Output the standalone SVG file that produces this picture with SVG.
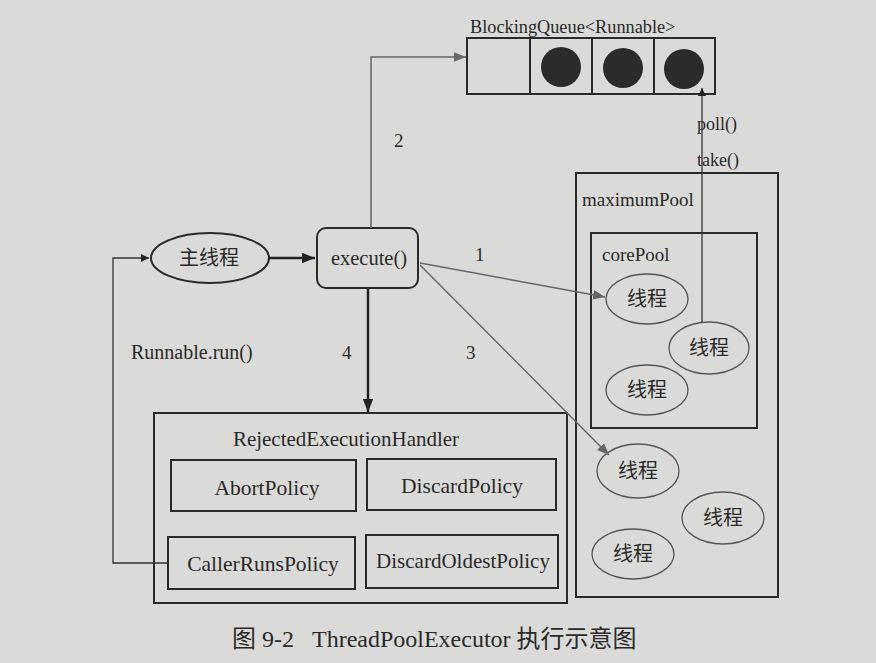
<svg xmlns="http://www.w3.org/2000/svg" width="876" height="663" viewBox="0 0 876 663">
<defs>
<marker id="ah" viewBox="0 0 10 10" refX="10" refY="5" markerWidth="8" markerHeight="8" markerUnits="userSpaceOnUse" orient="auto"><path d="M0,0 L10,5 L0,10 z" fill="#222"/></marker>
<marker id="ahg" viewBox="0 0 10 10" refX="10" refY="5" markerWidth="12" markerHeight="12" markerUnits="userSpaceOnUse" orient="auto"><path d="M0,1 L10,5 L0,9 z" fill="#666"/></marker>
<marker id="ahb" viewBox="0 0 10 10" refX="10" refY="5" markerWidth="13" markerHeight="13" markerUnits="userSpaceOnUse" orient="auto"><path d="M0,1 L10,5 L0,9 z" fill="#222"/></marker>
</defs>
<style>
.t{font-family:"Liberation Serif","Noto Sans CJK SC",serif;fill:#2a2a2a}
.c{font-family:"Noto Sans CJK SC",sans-serif;fill:#2a2a2a}
.box{fill:none;stroke:#2a2a2a;stroke-width:2}
.th{fill:none;stroke:#555;stroke-width:1.3}
.ln{fill:none;stroke:#333;stroke-width:1.3}
.lg{fill:none;stroke:#666;stroke-width:1.5}
.lb{fill:none;stroke:#222;stroke-width:2.5}
</style>
<rect width="876" height="663" fill="#dadad8"/>
<g id="queue">
<text class="t" x="470" y="33" font-size="18.3">BlockingQueue&lt;Runnable&gt;</text>
<rect class="box" x="467" y="38" width="248" height="56"/>
<line class="box" x1="530" y1="38" x2="530" y2="94"/>
<line class="box" x1="592" y1="38" x2="592" y2="94"/>
<line class="box" x1="654" y1="38" x2="654" y2="94"/>
<circle cx="561" cy="67" r="20" fill="#2b2b2b"/>
<circle cx="623" cy="68" r="20" fill="#2b2b2b"/>
<circle cx="684" cy="69" r="20" fill="#2b2b2b"/>
</g>
<g id="mainThread">
<ellipse cx="210" cy="258" rx="59" ry="25" fill="none" stroke="#2a2a2a" stroke-width="2"/>
<text class="c" x="209" y="265" font-size="20" text-anchor="middle">主线程</text>
</g>
<g id="execute">
<rect class="box" x="317" y="228" width="101" height="60" rx="9"/>
<text class="t" x="369" y="265" font-size="20.5" text-anchor="middle">execute()</text>
</g>
<g id="rejected">
<rect class="box" x="154" y="413" width="413" height="190"/>
<text class="t" x="346" y="446" font-size="21" text-anchor="middle">RejectedExecutionHandler</text>
</g>
<g id="abort"><rect class="box" x="171" y="460" width="185" height="51"/><text class="t" x="267" y="495" font-size="21.5" text-anchor="middle">AbortPolicy</text></g>
<g id="discard"><rect class="box" x="367" y="459" width="189" height="51"/><text class="t" x="462" y="493" font-size="21.5" text-anchor="middle">DiscardPolicy</text></g>
<g id="callerRuns"><rect class="box" x="168" y="537" width="187" height="52"/><text class="t" x="263" y="571" font-size="21.5" text-anchor="middle">CallerRunsPolicy</text></g>
<g id="discardOldest"><rect class="box" x="366" y="535" width="192" height="53"/><text class="t" x="463" y="568" font-size="21" text-anchor="middle">DiscardOldestPolicy</text></g>
<g id="maximumPool">
<rect class="box" x="576" y="173" width="202" height="424"/>
<text class="t" x="582" y="206" font-size="19">maximumPool</text>
</g>
<g id="corePool">
<rect class="box" x="591" y="233" width="166" height="195"/>
<text class="t" x="602" y="261" font-size="19">corePool</text>
</g>
<g id="t1"><ellipse class="th" cx="647" cy="299" rx="41" ry="25"/><text class="c" x="647" y="306" font-size="20" text-anchor="middle">线程</text></g>
<g id="t2"><ellipse class="th" cx="709" cy="348" rx="40" ry="26"/><text class="c" x="709" y="355" font-size="20" text-anchor="middle">线程</text></g>
<g id="t3"><ellipse class="th" cx="647" cy="390" rx="41" ry="25"/><text class="c" x="647" y="397" font-size="20" text-anchor="middle">线程</text></g>
<g id="t4"><ellipse class="th" cx="638" cy="471" rx="41" ry="27"/><text class="c" x="638" y="478" font-size="20" text-anchor="middle">线程</text></g>
<g id="t5"><ellipse class="th" cx="723" cy="518" rx="41" ry="26"/><text class="c" x="723" y="525" font-size="20" text-anchor="middle">线程</text></g>
<g id="t6"><ellipse class="th" cx="633" cy="554" rx="41" ry="25"/><text class="c" x="633" y="561" font-size="20" text-anchor="middle">线程</text></g>
<g id="connectors">
<path class="lg" d="M371,228 V57 H466" marker-end="url(#ahg)"/>
<line class="lb" x1="269" y1="258" x2="315" y2="258" marker-end="url(#ahb)"/>
<line class="lb" x1="368" y1="288" x2="368" y2="412" marker-end="url(#ahb)"/>
<line class="lg" x1="420" y1="263" x2="605" y2="297" marker-end="url(#ahg)"/>
<line class="lg" x1="420" y1="265" x2="609" y2="455" marker-end="url(#ahg)"/>
<path class="ln" d="M168,563 H113 V258 H149" marker-end="url(#ah)"/>
<line class="ln" x1="702" y1="322" x2="702" y2="88" marker-end="url(#ah)"/>
<text class="t" x="394" y="147" font-size="19">2</text>
<text class="t" x="475" y="261" font-size="19">1</text>
<text class="t" x="342" y="359" font-size="19">4</text>
<text class="t" x="466" y="359" font-size="19">3</text>
<text class="t" x="131" y="359" font-size="20">Runnable.run()</text>
<text class="t" x="697" y="130" font-size="18">poll()</text>
<text class="t" x="697" y="166" font-size="18">take()</text>
</g>
<text class="t" x="232" y="647" font-size="24" xml:space="preserve">图 9-2   ThreadPoolExecutor 执行示意图</text>
</svg>
